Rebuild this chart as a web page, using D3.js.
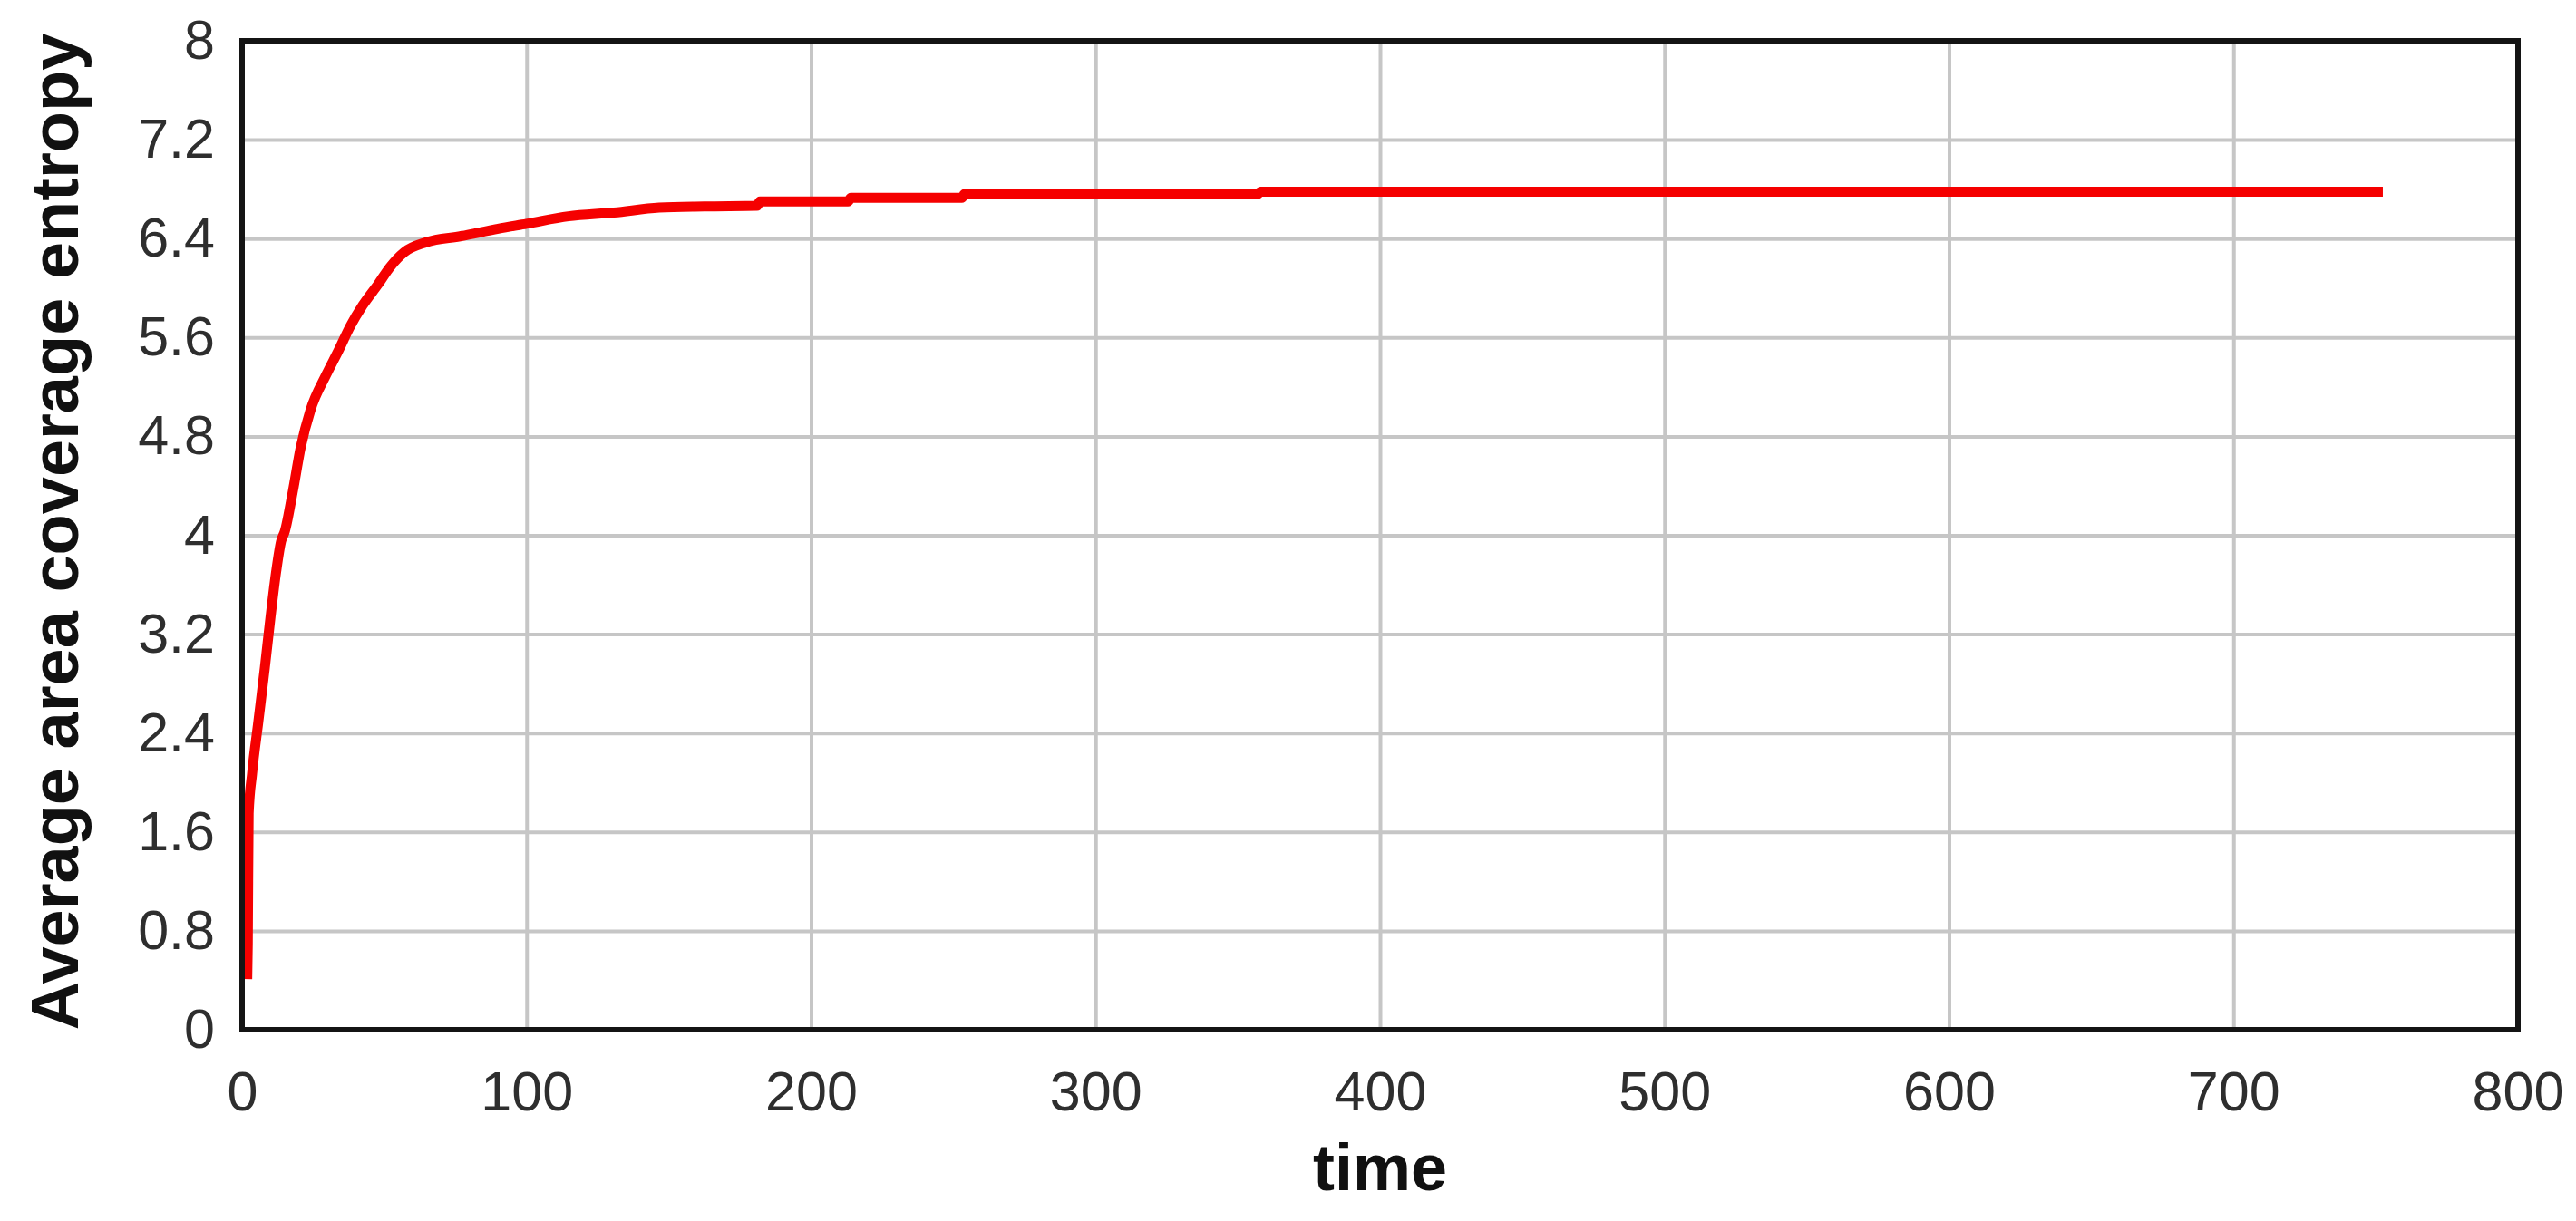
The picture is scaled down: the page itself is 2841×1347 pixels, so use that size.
<!DOCTYPE html>
<html>
<head>
<meta charset="utf-8">
<script src="https://cdn.jsdelivr.net/npm/d3@7"></script>
<style>
  html, body { margin: 0; padding: 0; background: #ffffff; }
  svg { display: block; }
</style>
</head>
<body>
<svg id="chart" width="2841" height="1347"></svg>
<script>
// ---- data ----
const timeValues = [1.8, 2.0, 2.3, 3.5, 5.7, 8, 10, 12, 13.7, 15, 17.8, 20.6, 24, 29.6, 33.8, 38, 42.4, 47.8, 52, 57, 64.7, 77, 90, 100, 114.7, 130.7, 146.6, 162.5, 181, 182, 213, 214, 253, 254, 357, 358, 752.5];
const entropyValues = [0.41, 0.70, 1.75, 2.07, 2.49, 2.93, 3.34, 3.71, 3.95, 4.03, 4.35, 4.71, 5.01, 5.30, 5.49, 5.69, 5.86, 6.03, 6.17, 6.29, 6.37, 6.42, 6.48, 6.52, 6.58, 6.61, 6.65, 6.66, 6.665, 6.70, 6.70, 6.73, 6.73, 6.76, 6.76, 6.78, 6.78];
const xTickValues = [0, 100, 200, 300, 400, 500, 600, 700, 800];
const xTickLabels = ["0", "100", "200", "300", "400", "500", "600", "700", "800"];
const yTickValues = [0, 0.8, 1.6, 2.4, 3.2, 4, 4.8, 5.6, 6.4, 7.2, 8];
const yTickLabels = ["0", "0.8", "1.6", "2.4", "3.2", "4", "4.8", "5.6", "6.4", "7.2", "8"];
const xTitle = "time";
const yTitle = "Average area coverage entropy";

// ---- layout ----
const W = 2841, H = 1347;
const margin = { left: 267, right: 64, top: 45, bottom: 211 };
const iw = W - margin.left - margin.right;
const ih = H - margin.top - margin.bottom;

const svg = d3.select("#chart");
const g = svg.append("g").attr("transform", `translate(${margin.left},${margin.top})`);

const x = d3.scaleLinear().domain([0, 800]).range([0, iw]);
const y = d3.scaleLinear().domain([0, 8]).range([ih, 0]);

// gridlines
const gridX = g.append("g").attr("class", "grid-x")
  .attr("transform", `translate(0,${ih})`)
  .call(d3.axisBottom(x).tickValues(xTickValues.slice(1, -1)).tickSize(-ih).tickFormat(""));
const gridY = g.append("g").attr("class", "grid-y")
  .call(d3.axisLeft(y).tickValues(yTickValues.slice(1, -1)).tickSize(-iw).tickFormat(""));
[gridX, gridY].forEach(sel => {
  sel.select(".domain").remove();
  sel.selectAll(".tick line").attr("stroke", "#c6c6c6").attr("stroke-width", 4);
});

// tick labels
const axX = g.append("g")
  .attr("transform", `translate(0,${ih})`)
  .call(d3.axisBottom(x).tickValues(xTickValues).tickSize(0).tickPadding(46)
    .tickFormat((d, i) => xTickLabels[i]));
const axY = g.append("g")
  .call(d3.axisLeft(y).tickValues(yTickValues).tickSize(0).tickPadding(30)
    .tickFormat((d, i) => yTickLabels[i]));
[axX, axY].forEach(sel => {
  sel.select(".domain").remove();
  sel.selectAll(".tick text")
    .attr("fill", "#2e2e2e")
    .style("font-family", "'Liberation Sans', Arial, sans-serif")
    .style("font-size", "61px");
});

// line
const pts = timeValues.map((t, i) => [t, entropyValues[i]]);
g.append("path")
  .datum(pts)
  .attr("fill", "none")
  .attr("stroke", "#f50000")
  .attr("stroke-width", 11)
  .attr("stroke-linejoin", "round")
  .attr("stroke-linecap", "butt")
  .attr("d", d3.line().x(d => x(d[0])).y(d => y(d[1])).curve(d3.curveMonotoneX));

// frame
g.append("rect")
  .attr("x", 0).attr("y", 0).attr("width", iw).attr("height", ih)
  .attr("fill", "none").attr("stroke", "#141414").attr("stroke-width", 6);

// titles
svg.append("text")
  .attr("x", margin.left + iw / 2).attr("y", 1313)
  .attr("text-anchor", "middle")
  .attr("fill", "#111")
  .style("font-family", "'Liberation Sans', Arial, sans-serif")
  .style("font-weight", "bold").style("font-size", "72px")
  .text(xTitle);

svg.append("text")
  .attr("transform", `translate(86,${margin.top + ih / 2 - 4}) rotate(-90)`)
  .attr("text-anchor", "middle")
  .attr("fill", "#111")
  .style("font-family", "'Liberation Sans', Arial, sans-serif")
  .style("font-weight", "bold").style("font-size", "74px")
  .text(yTitle);
</script>
</body>
</html>
